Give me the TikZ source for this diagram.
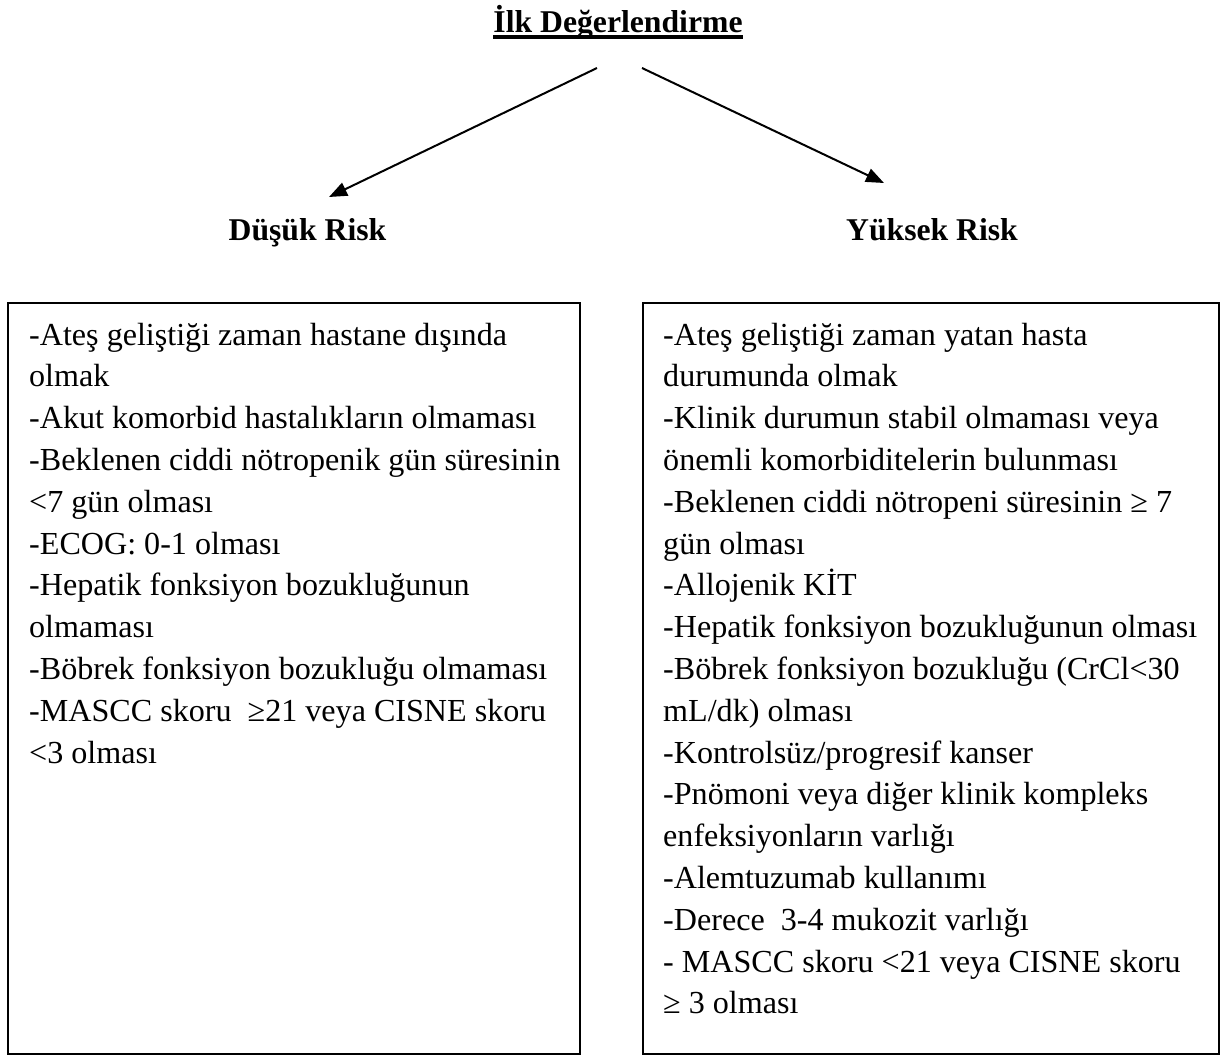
\documentclass[tikz,border=0pt]{standalone}
\usepackage{fontspec}
\setmainfont{Liberation Serif}
\usetikzlibrary{arrows.meta}
\begin{document}
\begin{tikzpicture}[x=1pt,y=-1pt,
  body/.style={font=\fontsize{32.1}{41.8}\selectfont, inner sep=0pt, anchor=base west},
  head/.style={font=\fontsize{31.7}{38}\selectfont\bfseries, inner sep=0pt, anchor=base},
  frame/.style={draw, line width=2pt, inner sep=0pt, anchor=north west},
  arr/.style={line width=2pt, -{Triangle[length=18pt,width=14pt]}}]
\useasboundingbox (0,0) rectangle (1227,1055);
\node[head] (title) at (618,32) {İlk Değerlendirme};
\draw[line width=3.5pt] ([yshift=-5pt]title.base west) -- ([yshift=-5pt]title.base east);
\node[head] (low) at (307.5,240) {Düşük Risk};
\node[head] (high) at (932,240) {Yüksek Risk};
\coordinate (ls) at (597,68);
\coordinate (le) at (329,197);
\coordinate (rs) at (642,68);
\coordinate (re) at (884,183);
\draw[arr] (ls) -- (le);
\draw[arr] (rs) -- (re);
\node[frame, minimum width=572pt, minimum height=751pt] (lbox) at (7,302) {};
\node[frame, minimum width=576pt, minimum height=751pt] (rbox) at (642,302) {};
\node[body] (ltext) at (29,345) {\parbox[t]{545pt}{%
-Ateş geliştiği zaman hastane dışında\\
olmak\\
-Akut komorbid hastalıkların olmaması\\
-Beklenen ciddi nötropenik gün süresinin\\
<7 gün olması\\
-ECOG: 0-1 olması\\
-Hepatik fonksiyon bozukluğunun\\
olmaması\\
-Böbrek fonksiyon bozukluğu olmaması\\
-MASCC skoru \ ≥21 veya CISNE skoru\\
<3 olması}};
\node[body] (rtext) at (663,345) {\parbox[t]{550pt}{%
-Ateş geliştiği zaman yatan hasta\\
durumunda olmak\\
-Klinik durumun stabil olmaması veya\\
önemli komorbiditelerin bulunması\\
-Beklenen ciddi nötropeni süresinin ≥ 7\\
gün olması\\
-Allojenik KİT\\
-Hepatik fonksiyon bozukluğunun olması\\
-Böbrek fonksiyon bozukluğu (CrCl<30\\
mL/dk) olması\\
-Kontrolsüz/progresif kanser\\
-Pnömoni veya diğer klinik kompleks\\
enfeksiyonların varlığı\\
-Alemtuzumab kullanımı\\
-Derece \ 3-4 mukozit varlığı\\
- MASCC skoru <21 veya CISNE skoru\\
≥ 3 olması}};
\end{tikzpicture}
\end{document}
